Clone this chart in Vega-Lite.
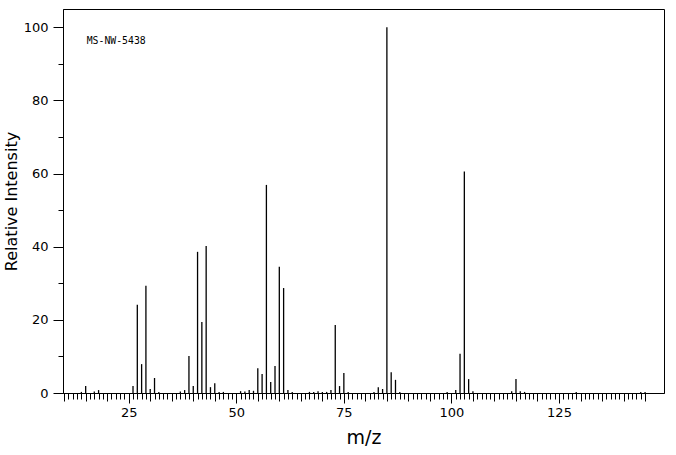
{
  "$schema": "https://vega.github.io/schema/vega-lite/v6.json",
  "width": 601,
  "height": 384,
  "autosize": {"type": "none"},
  "padding": {"left": 63, "top": 9, "right": 12, "bottom": 62},
  "background": "white",
  "config": {
    "view": {"stroke": "black", "strokeWidth": 1},
    "axis": {
      "domainColor": "black", "tickColor": "black", "labelColor": "black", "titleColor": "black",
      "labelFont": "DejaVu Sans", "titleFont": "DejaVu Sans", "labelFontSize": 13,
      "titleFontWeight": "normal", "grid": false, "tickWidth": 1, "domainWidth": 1
    }
  },
  "data": {"values": [
    {"mz": 14, "intensity": 0.3}, {"mz": 15, "intensity": 1.9}, {"mz": 17, "intensity": 0.4}, {"mz": 18, "intensity": 0.8},
    {"mz": 26, "intensity": 1.9}, {"mz": 27, "intensity": 24.1}, {"mz": 28, "intensity": 7.9}, {"mz": 29, "intensity": 29.3},
    {"mz": 30, "intensity": 1.1}, {"mz": 31, "intensity": 4.1}, {"mz": 32, "intensity": 0.3}, {"mz": 37, "intensity": 0.4},
    {"mz": 38, "intensity": 0.8}, {"mz": 39, "intensity": 10.1}, {"mz": 40, "intensity": 1.9}, {"mz": 41, "intensity": 38.6},
    {"mz": 42, "intensity": 19.4}, {"mz": 43, "intensity": 40.2}, {"mz": 44, "intensity": 1.6}, {"mz": 45, "intensity": 2.7},
    {"mz": 46, "intensity": 0.3}, {"mz": 47, "intensity": 0.3}, {"mz": 51, "intensity": 0.5}, {"mz": 52, "intensity": 0.4},
    {"mz": 53, "intensity": 0.8}, {"mz": 54, "intensity": 0.6}, {"mz": 55, "intensity": 6.8}, {"mz": 56, "intensity": 5.2},
    {"mz": 57, "intensity": 56.9}, {"mz": 58, "intensity": 3.0}, {"mz": 59, "intensity": 7.4}, {"mz": 60, "intensity": 34.5},
    {"mz": 61, "intensity": 28.7}, {"mz": 62, "intensity": 0.8}, {"mz": 63, "intensity": 0.3}, {"mz": 67, "intensity": 0.3},
    {"mz": 68, "intensity": 0.3}, {"mz": 69, "intensity": 0.5}, {"mz": 70, "intensity": 0.3}, {"mz": 71, "intensity": 0.3},
    {"mz": 72, "intensity": 0.8}, {"mz": 73, "intensity": 18.6}, {"mz": 74, "intensity": 1.9}, {"mz": 75, "intensity": 5.5},
    {"mz": 76, "intensity": 0.3}, {"mz": 82, "intensity": 0.3}, {"mz": 83, "intensity": 1.6}, {"mz": 84, "intensity": 1.1},
    {"mz": 85, "intensity": 100}, {"mz": 86, "intensity": 5.7}, {"mz": 87, "intensity": 3.6}, {"mz": 88, "intensity": 0.3},
    {"mz": 99, "intensity": 0.3}, {"mz": 101, "intensity": 0.8}, {"mz": 102, "intensity": 10.7}, {"mz": 103, "intensity": 60.6},
    {"mz": 104, "intensity": 3.8}, {"mz": 105, "intensity": 0.5}, {"mz": 114, "intensity": 0.5}, {"mz": 115, "intensity": 3.8},
    {"mz": 116, "intensity": 0.5}, {"mz": 117, "intensity": 0.3}, {"mz": 129, "intensity": 0.3}, {"mz": 144, "intensity": 0.3},
    {"mz": 145, "intensity": 0.3}
  ]},
  "layer": [
    {
      "mark": {"type": "rule", "color": "black", "strokeWidth": 1.3},
      "encoding": {
        "x": {"field": "mz", "type": "quantitative",
          "scale": {"domain": [9.73, 149.4], "nice": false, "zero": false},
          "axis": {"orient": "bottom", "values": [10,11,12,13,14,15,16,17,18,19,20,21,22,23,24,25,26,27,28,29,30,31,32,33,34,35,36,37,38,39,40,41,42,43,44,45,46,47,48,49,50,51,52,53,54,55,56,57,58,59,60,61,62,63,64,65,66,67,68,69,70,71,72,73,74,75,76,77,78,79,80,81,82,83,84,85,86,87,88,89,90,91,92,93,94,95,96,97,98,99,100,101,102,103,104,105,106,107,108,109,110,111,112,113,114,115,116,117,118,119,120,121,122,123,124,125,126,127,128,129,130,131,132,133,134,135,136,137,138,139,140,141,142,143,144,145],
            "tickSize": 6, "labels": false, "title": null, "domain": true}},
        "y": {"field": "intensity", "type": "quantitative",
          "scale": {"domain": [0, 105], "nice": false},
          "axis": {"orient": "left", "values": [0, 20, 40, 60, 80, 100], "tickSize": 10, "labelPadding": 5,
            "title": "Relative Intensity", "titleFontSize": 16, "titlePadding": 4}},
        "y2": {"datum": 0}
      }
    },
    {
      "mark": {"type": "rule", "opacity": 0},
      "encoding": {
        "x": {"field": "mz", "type": "quantitative",
          "scale": {"domain": [9.73, 149.4], "nice": false, "zero": false},
          "axis": {"orient": "bottom", "values": [10,15,20,25,30,35,40,45,50,55,60,65,70,75,80,85,90,95,100,105,110,115,120,125,130,135,140,145],
            "tickSize": 8, "labels": false, "title": null, "domain": false}},
        "y": {"field": "intensity", "type": "quantitative",
          "scale": {"domain": [0, 105], "nice": false},
          "axis": {"orient": "left", "values": [10, 30, 50, 70, 90], "tickSize": 5, "labels": false, "title": null, "domain": false}}
      }
    },
    {
      "mark": {"type": "rule", "opacity": 0},
      "encoding": {
        "x": {"field": "mz", "type": "quantitative",
          "scale": {"domain": [9.73, 149.4], "nice": false, "zero": false},
          "axis": {"orient": "bottom", "values": [25, 50, 75, 100, 125], "tickSize": 10, "labelPadding": 3,
            "title": "m/z", "titleFontSize": 19, "titlePadding": 9, "domain": false}},
        "y": {"field": "intensity", "type": "quantitative", "axis": null}
      }
    },
    {
      "data": {"values": [{"label": "MS-NW-5438"}]},
      "mark": {"type": "text", "font": "DejaVu Sans Mono", "fontSize": 9.8, "align": "left", "baseline": "middle", "color": "black"},
      "encoding": {
        "x": {"datum": 15.24, "type": "quantitative", "axis": null},
        "y": {"datum": 96.2, "type": "quantitative", "axis": null},
        "text": {"field": "label"}
      }
    }
  ],
  "resolve": {"axis": {"x": "independent", "y": "independent"}}
}
